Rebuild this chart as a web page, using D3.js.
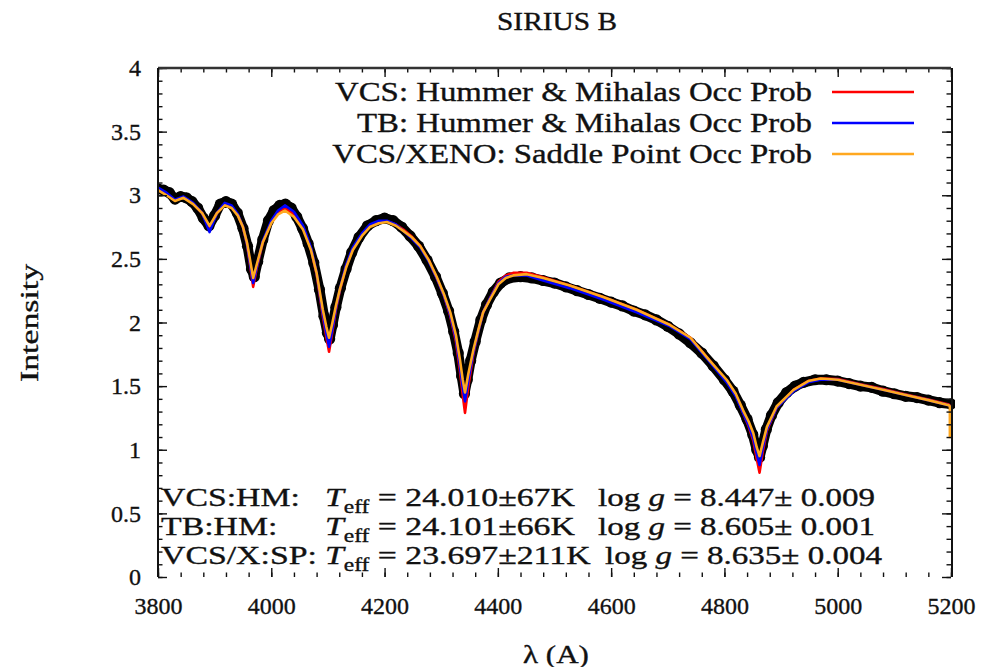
<!DOCTYPE html>
<html>
<head>
<meta charset="utf-8">
<script src="https://cdn.jsdelivr.net/npm/d3@7"></script>
<style>
  html, body { margin: 0; padding: 0; background: #fff; }
  svg { display: block; }
  svg text { font-family: "Liberation Serif", "Times New Roman", "DejaVu Serif", serif; fill: #111; stroke: #111; stroke-width: 0.35px; }
</style>
</head>
<body>
<svg id="chart" width="996" height="667"></svg>
<script>
// ---------------- DATA ----------------
const titleText = "SIRIUS B";
const xLabelText = "λ (A)";
const yLabelText = "Intensity";

const xTicks = [3800, 4000, 4200, 4400, 4600, 4800, 5000, 5200];
const xTickLabels = ["3800", "4000", "4200", "4400", "4600", "4800", "5000", "5200"];
const yTicks = [0, 0.5, 1, 1.5, 2, 2.5, 3, 3.5, 4];
const yTickLabels = ["0", "0.5", "1", "1.5", "2", "2.5", "3", "3.5", "4"];

const seriesNames = ["VCS: Hummer & Mihalas Occ Prob", "TB: Hummer & Mihalas Occ Prob", "VCS/XENO: Saddle Point Occ Prob"];

// model wavelength grid (Angstrom)
const wavelength = [3800,3815,3830,3845,3862,3878,3891,3904,3918,3930,
  3941,3950,3957,3963,3968,3974,3985,4000,4012,4024,
  4040,4056,4070,4080,4091,4097,4102,4108,4114,4121,
  4132,4144,4160,4174,4190,4204,4220,4233,4248,4263,
  4278,4292,4305,4316,4326,4333,4338,4342,4348,4357,
  4366,4374,4386,4401,4414,4427,4451,4480,4527,4586,
  4645,4704,4740,4774,4804,4820,4833,4843,4851,4857,
  4862,4868,4875,4892,4922,4948,4970,5000,5040,5082,
  5120,5160,5196,5198,5198];

// VCS: Hummer & Mihalas (red)
const vcsHM = [3.05,3.01,2.96,2.985,2.935,2.86,2.73,2.86,2.93,2.91,
  2.845,2.75,2.62,2.44,2.28,2.42,2.63,2.79,2.87,2.90,
  2.85,2.75,2.58,2.38,2.05,1.89,1.77,1.93,2.10,2.25,
  2.44,2.58,2.69,2.76,2.79,2.795,2.77,2.73,2.675,2.60,
  2.49,2.35,2.21,2.05,1.85,1.62,1.43,1.29,1.50,1.76,
  1.94,2.08,2.19,2.32,2.37,2.39,2.39,2.355,2.29,2.20,
  2.10,1.98,1.88,1.70,1.54,1.43,1.29,1.18,1.07,0.93,
  0.82,0.99,1.15,1.33,1.47,1.54,1.56,1.555,1.515,1.475,
  1.435,1.395,1.355,1.345,1.345];

// TB: Hummer & Mihalas (blue)
const tbHM = [3.06,3.02,2.965,2.99,2.94,2.86,2.71,2.86,2.94,2.92,
  2.85,2.75,2.62,2.45,2.31,2.43,2.64,2.80,2.88,2.92,
  2.87,2.76,2.59,2.39,2.07,1.92,1.81,1.95,2.11,2.26,
  2.45,2.59,2.70,2.77,2.80,2.80,2.77,2.72,2.66,2.59,
  2.48,2.35,2.21,2.06,1.87,1.66,1.49,1.38,1.55,1.77,
  1.94,2.08,2.19,2.31,2.36,2.37,2.37,2.33,2.27,2.18,
  2.08,1.97,1.87,1.69,1.53,1.42,1.29,1.19,1.09,0.97,
  0.88,1.02,1.16,1.33,1.46,1.53,1.55,1.55,1.51,1.47,
  1.43,1.39,1.35,1.34,1.34];

// VCS/XENO: Saddle Point (orange)
const vcsXenoSP = [3.04,3.00,2.955,2.98,2.93,2.86,2.76,2.86,2.92,2.90,
  2.84,2.75,2.63,2.48,2.35,2.45,2.63,2.78,2.85,2.88,
  2.83,2.73,2.57,2.39,2.10,1.97,1.88,2.00,2.13,2.26,
  2.43,2.57,2.68,2.75,2.78,2.79,2.76,2.72,2.67,2.60,
  2.49,2.36,2.22,2.08,1.90,1.71,1.55,1.45,1.60,1.79,
  1.95,2.08,2.18,2.30,2.35,2.37,2.38,2.35,2.29,2.20,
  2.10,1.98,1.88,1.70,1.55,1.44,1.31,1.22,1.13,1.02,
  0.95,1.06,1.18,1.34,1.47,1.54,1.56,1.55,1.51,1.47,
  1.43,1.39,1.35,1.34,1.09];

// observed spectrum (black dots)
const obsWavelength = [3800,3810,3820,3830,3840,3850,3860,3870,3880,3890,
  3900,3910,3920,3930,3940,3950,3958,3965,3970,3976,
  3985,3995,4005,4015,4025,4035,4045,4055,4065,4075,
  4085,4093,4099,4103,4108,4114,4122,4132,4142,4155,
  4170,4185,4200,4215,4230,4245,4260,4275,4290,4302,
  4313,4322,4330,4336,4341,4346,4352,4360,4370,4380,
  4392,4405,4420,4440,4460,4480,4500,4520,4540,4560,
  4580,4600,4620,4640,4660,4680,4700,4720,4740,4760,
  4780,4800,4815,4828,4840,4850,4857,4862,4867,4874,
  4883,4895,4910,4925,4940,4960,4980,5000,5020,5040,
  5060,5080,5100,5120,5140,5160,5180,5200];
const obsIntensity = [3.05,3.04,3.02,2.97,2.99,2.98,2.95,2.90,2.82,2.76,
  2.84,2.93,2.95,2.93,2.86,2.74,2.60,2.42,2.36,2.48,
  2.65,2.80,2.88,2.92,2.93,2.90,2.83,2.74,2.62,2.47,
  2.26,2.05,1.92,1.87,1.98,2.12,2.27,2.42,2.55,2.67,
  2.76,2.80,2.82,2.80,2.75,2.68,2.60,2.49,2.36,2.23,
  2.09,1.93,1.76,1.58,1.44,1.55,1.70,1.85,2.02,2.14,
  2.24,2.31,2.35,2.36,2.35,2.33,2.31,2.28,2.25,2.22,
  2.19,2.16,2.13,2.09,2.06,2.02,1.97,1.91,1.84,1.76,
  1.66,1.55,1.46,1.35,1.24,1.12,1.00,0.94,1.03,1.16,
  1.27,1.37,1.45,1.50,1.53,1.55,1.55,1.54,1.52,1.50,
  1.49,1.46,1.44,1.42,1.41,1.39,1.37,1.36];

const annotLabels = ["VCS:HM:", "TB:HM:", "VCS/X:SP:"];
const annotTeff = ["24.010±67K", "24.101±66K", "23.697±211K"];
const annotLogg = ["8.447± 0.009", "8.605± 0.001", "8.635± 0.004"];

// ---------------- DRAWING ----------------
const FONT = '"Liberation Serif", "Times New Roman", serif';
const svg = d3.select("#chart");
const L = 158, R = 951, T = 68, B = 577;
const x = d3.scaleLinear().domain([3800, 5200]).range([L, R]);
const y = d3.scaleLinear().domain([0, 4]).range([B, T]);

const colors = ["#ff0000", "#0000ff", "#ffa820"];
const models = [vcsHM, tbHM, vcsXenoSP];

const plot = svg.append("g");
const clipId = "clipP";
svg.append("clipPath").attr("id", clipId).append("rect")
  .attr("x", L).attr("y", T).attr("width", R - L + 4).attr("height", B - T + 6);

// observed data
const obs = obsWavelength.map((w, i) => [w, obsIntensity[i]]);
const lineGen = d3.line().x(d => x(d[0])).y(d => y(d[1]));
const obsG = plot.append("g").attr("clip-path", `url(#${clipId})`);
obsG.append("path").datum(obs).attr("d", lineGen)
  .attr("fill", "none").attr("stroke", "#000").attr("stroke-width", 10)
  .attr("stroke-linejoin", "round");
obsG.selectAll("circle").data(obs).enter().append("circle")
  .attr("cx", d => x(d[0])).attr("cy", d => y(d[1])).attr("r", 5.6).attr("fill", "#000");

// axes (ticks inward)
function styleAxis(g) {
  g.attr("font-family", FONT);
  g.select(".domain").remove();
  g.selectAll(".tick line").attr("stroke", "#111").attr("stroke-width", 1.4);
  g.selectAll(".tick text").attr("font-family", FONT).style("font-family", FONT)
    .style("font-size", "24px").attr("fill", "#111");
}
const xMinor = d3.range(3800, 5201, 40);
const yMinor = d3.range(0, 4.001, 0.1);

const ax = svg.append("g");
ax.append("g").attr("transform", `translate(0,${B})`)
  .call(d3.axisBottom(x).tickValues(xMinor).tickSize(-4.5).tickFormat("")).call(styleAxis);
ax.append("g").attr("transform", `translate(0,${B})`)
  .call(d3.axisBottom(x).tickValues(xTicks).tickSize(-9).tickPadding(20)
    .tickFormat((d, i) => xTickLabels[i])).call(styleAxis);
ax.append("g").attr("transform", `translate(0,${T})`)
  .call(d3.axisTop(x).tickValues(xMinor).tickSize(-4.5).tickFormat("")).call(styleAxis);
ax.append("g").attr("transform", `translate(0,${T})`)
  .call(d3.axisTop(x).tickValues(xTicks).tickSize(-9).tickFormat("")).call(styleAxis);
ax.append("g").attr("transform", `translate(${L},0)`)
  .call(d3.axisLeft(y).tickValues(yMinor).tickSize(-4.5).tickFormat("")).call(styleAxis);
ax.append("g").attr("transform", `translate(${L},0)`)
  .call(d3.axisLeft(y).tickValues(yTicks).tickSize(-9).tickPadding(17)
    .tickFormat((d, i) => yTickLabels[i])).call(styleAxis);
ax.append("g").attr("transform", `translate(${R},0)`)
  .call(d3.axisRight(y).tickValues(yMinor).tickSize(-4.5).tickFormat("")).call(styleAxis);
ax.append("g").attr("transform", `translate(${R},0)`)
  .call(d3.axisRight(y).tickValues(yTicks).tickSize(-9).tickFormat("")).call(styleAxis);

// border (top, left, right)
svg.append("line").attr("x1", L).attr("x2", R).attr("y1", T).attr("y2", T)
  .attr("stroke", "#333").attr("stroke-width", 2.5);
svg.append("line").attr("x1", L).attr("x2", L).attr("y1", T).attr("y2", B)
  .attr("stroke", "#111").attr("stroke-width", 2);
svg.append("line").attr("x1", R + 1).attr("x2", R + 1).attr("y1", T).attr("y2", B)
  .attr("stroke", "#111").attr("stroke-width", 2);

// models (drawn above frame)
const modelG = plot.append("g").attr("clip-path", `url(#${clipId})`);
models.forEach((vals, k) => {
  const pts = wavelength.map((w, i) => [w, vals[i]]);
  modelG.append("path").datum(pts).attr("d", lineGen)
    .attr("fill", "none").attr("stroke", colors[k]).attr("stroke-width", 2.6)
    .attr("stroke-linejoin", "round");
});

// helper for horizontally stretched text
function sText(px, py, str, size, sx, anchor, rot) {
  const g = svg.append("g").attr("transform", `translate(${px},${py})${rot ? ` rotate(${rot})` : ""} scale(${sx},1)`);
  return g.append("text").attr("font-family", FONT).attr("text-anchor", anchor || "start")
    .style("font-size", size + "px").text(str);
}

sText(557, 30, titleText, 26, 1.13, "middle");
sText(38, 323, yLabelText, 25, 1.35, "middle", -90);
sText(556, 663, xLabelText, 25, 1.24, "middle");

// legend
seriesNames.forEach((name, i) => {
  const ly = 92 + i * 31;
  sText(812, ly + 9, name, 26.5, 1.24, "end");
  svg.append("line").attr("x1", 832).attr("x2", 914).attr("y1", ly).attr("y2", ly)
    .attr("stroke", colors[i]).attr("stroke-width", 2.6);
});

// annotations
const annSize = 26, annSx = 1.3, logSx = 1.27;
const logX = [598, 598, 605];
annotLabels.forEach((lab, i) => {
  const by = 506 + i * 29;
  sText(161, by, lab, annSize, annSx, "start");
  const g1 = svg.append("g").attr("transform", `translate(325,${by}) scale(${annSx},1)`);
  const t1 = g1.append("text").attr("font-family", FONT).style("font-size", annSize + "px");
  t1.append("tspan").style("font-style", "italic").text("T");
  t1.append("tspan").attr("dy", 7).style("font-size", "18px").text("eff");
  t1.append("tspan").attr("dy", -7).text(" = " + annotTeff[i]);
  const g2 = svg.append("g").attr("transform", `translate(${logX[i]},${by}) scale(${logSx},1)`);
  const t2 = g2.append("text").attr("font-family", FONT).style("font-size", annSize + "px");
  t2.append("tspan").text("log ");
  t2.append("tspan").style("font-style", "italic").text("g");
  t2.append("tspan").text(" = " + annotLogg[i]);
});
</script>
</body>
</html>
